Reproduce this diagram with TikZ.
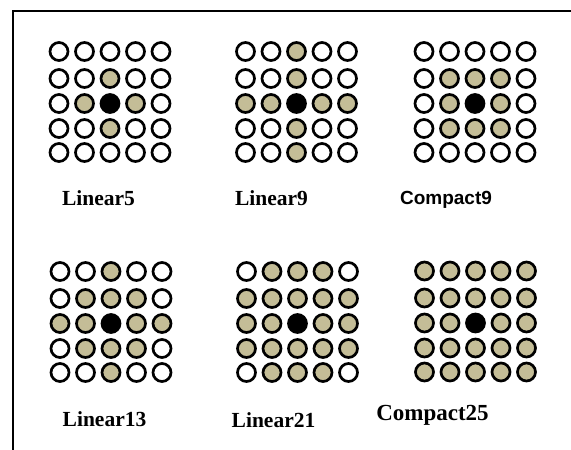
\documentclass[tikz,border=0pt]{standalone}
\usepackage{fontspec}
\setmainfont{Liberation Serif}
\setsansfont{Liberation Sans}
\usetikzlibrary{positioning}

\definecolor{tancell}{HTML}{C4BD97}

\tikzset{
  cell/.style={circle,draw=black,line width=2.7pt,minimum size=18pt,inner sep=0pt},
  cell0/.style={cell,fill=white},
  cell1/.style={cell,fill=tancell},
  cell2/.style={cell,fill=black},
  lbl/.style={font=\bfseries\fontsize{21.5}{24}\selectfont,inner sep=0pt}
}

% 5x5 neighbourhood: name, left x, top y, rows (0 = off, 1 = neighbour, 2 = centre)
\newcommand{\cellgrid}[4]{%
  \foreach \row [count=\r] in {#4}{
    \pgfmathsetmacro{\dy}{{0,27,52,77,101}[\r-1]}
    \foreach \v [count=\c] in \row{
      \node[cell\v] (#1-\r-\c) at ({#2+25.5*(\c-1)},{#3+\dy}) {};
    }
  }%
}

\begin{document}
\begin{tikzpicture}[x=1pt,y=-1pt]
  \useasboundingbox (0,0) rectangle (571,450);

  % frame
  \draw[line width=2pt] (13,450) -- (13,11) -- (571,11);

  % top row
  \cellgrid{lin5}{59}{51.5}{{0,0,0,0,0},{0,0,1,0,0},{0,1,2,1,0},{0,0,1,0,0},{0,0,0,0,0}}
  \cellgrid{lin9}{245.5}{51.5}{{0,0,1,0,0},{0,0,1,0,0},{1,1,2,1,1},{0,0,1,0,0},{0,0,1,0,0}}
  \cellgrid{cmp9}{424}{51.5}{{0,0,0,0,0},{0,1,1,1,0},{0,1,2,1,0},{0,1,1,1,0},{0,0,0,0,0}}

  \node[lbl] (lin5-lbl) at (98.5,198.5) {Linear5};
  \node[lbl] (lin9-lbl) at (271.5,198.5) {Linear9};
  \node[lbl,font=\sffamily\bfseries\fontsize{19}{22}\selectfont] (cmp9-lbl) at (446,200) {Compact9};

  % bottom row
  \cellgrid{lin13}{60}{271.5}{{0,0,1,0,0},{0,1,1,1,0},{1,1,2,1,1},{0,1,1,1,0},{0,0,1,0,0}}
  \cellgrid{lin21}{246.5}{271.5}{{0,1,1,1,0},{1,1,1,1,1},{1,1,2,1,1},{1,1,1,1,1},{0,1,1,1,0}}
  \cellgrid{cmp25}{424.5}{271}{{1,1,1,1,1},{1,1,1,1,1},{1,1,2,1,1},{1,1,1,1,1},{1,1,1,1,1}}

  \node[lbl] (lin13-lbl) at (104.5,419.5) {Linear13};
  \node[lbl] (lin21-lbl) at (273.5,420.5) {Linear21};
  \node[lbl,font=\bfseries\fontsize{23}{26}\selectfont] (cmp25-lbl) at (432.5,415.5) {Compact25};
\end{tikzpicture}
\end{document}
